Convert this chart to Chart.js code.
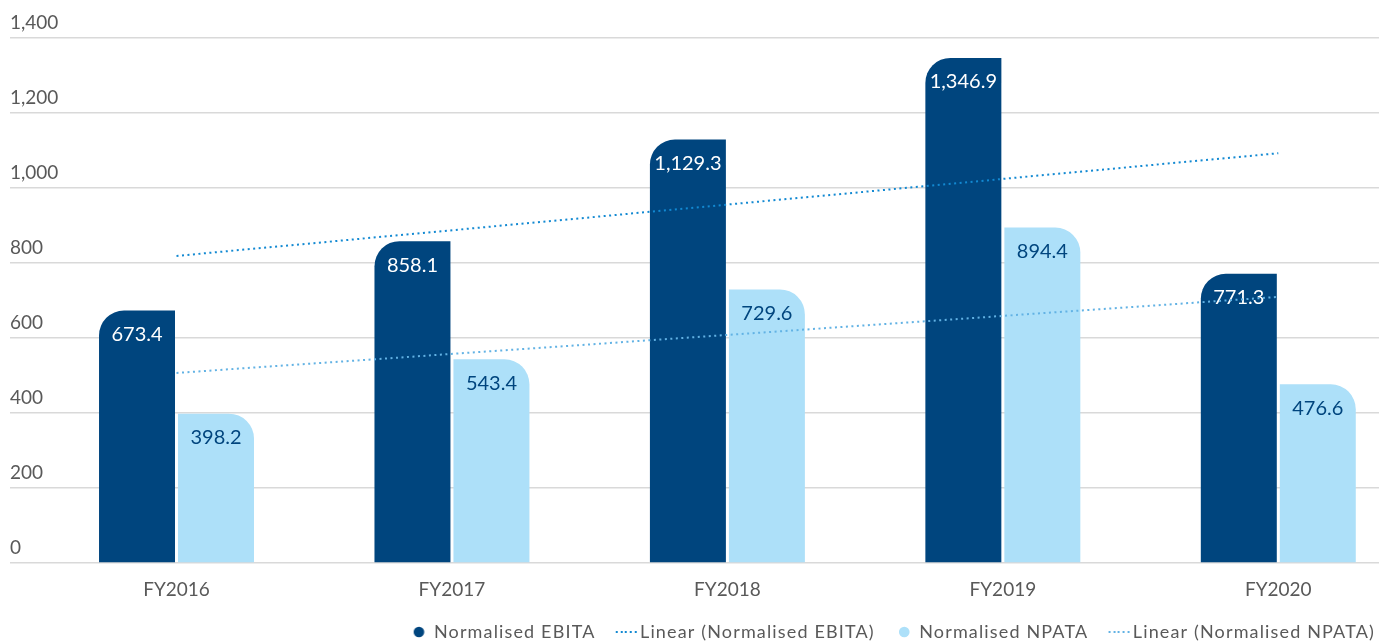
<!DOCTYPE html>
<html><head><meta charset="utf-8">
<script src="https://cdn.jsdelivr.net/npm/chart.js@4/dist/chart.umd.min.js"></script>
<style>html,body{margin:0;padding:0;background:#fff}#wrap{width:1379px;height:644px;position:relative}</style>
</head><body><div id="wrap"><canvas id="c"></canvas></div>
<script>
const categories = ['FY2016', 'FY2017', 'FY2018', 'FY2019', 'FY2020'];
const ebita = [673.4, 858.1, 1129.3, 1346.9, 771.3];
const npata = [398.2, 543.4, 729.6, 894.4, 476.6];
const trendX = [0, 4];
const ebitaTrend = [818.9, 1092.7];
const npataTrend = [506.9, 709.6];
const yTicks = [0, 200, 400, 600, 800, 1000, 1200, 1400];

const DARK = '#00457e';
const LIGHT = '#ade0f9';
const TREND1 = '#1289d2';
const TREND2 = '#62b2e4';
const FONT = 'Lato';
const LEGEND_SPACING = '1.15px';

function dottedImage(color) {
  const c = document.createElement('canvas');
  c.width = 28; c.height = 4;
  const g = c.getContext('2d');
  g.fillStyle = color;
  for (let x = 4.25; x < 26.5; x += 4.6) g.fillRect(Math.round(x), 1, 2, 2);
  return c;
}
function circleImage(color) {
  const c = document.createElement('canvas');
  c.width = 16; c.height = 12;
  const g = c.getContext('2d');
  g.fillStyle = color;
  g.beginPath();
  g.arc(8 - 0.75, 6, 5.3, 0, Math.PI * 2);
  g.fill();
  return c;
}

const barLabels = {
  id: 'barLabels',
  afterDatasetDraw(chart, args) {
    const meta = args.meta;
    if (meta.type !== 'bar') return;
    const ds = chart.data.datasets[args.index];
    const ctx = chart.ctx;
    ctx.save();
    ctx.font = '20px ' + FONT;
    ctx.textAlign = 'center';
    ctx.textBaseline = 'middle';
    ctx.fillStyle = ds.labelColor;
    meta.data.forEach((el, i) => {
      const v = ds.data[i].y;
      ctx.fillText(v.toLocaleString('en-US', {minimumFractionDigits: 1, maximumFractionDigits: 1}), el.x, el.y + 24);
    });
    ctx.restore();
  }
};

const legendSpacing = {
  id: 'legendSpacing',
  beforeLayout(chart) {
    const lg = chart.legend;
    if (!lg || lg.__patched) return;
    lg.__patched = true;
    ['fit', 'draw'].forEach(fn => {
      const orig = lg[fn];
      lg[fn] = function (...a) {
        const ctx = this.ctx;
        const prev = ctx.letterSpacing;
        ctx.letterSpacing = LEGEND_SPACING;
        const r = orig.apply(this, a);
        ctx.letterSpacing = prev || '0px';
        return r;
      };
    });
  }
};

new Chart(document.getElementById('c'), {
  data: {
    datasets: [
      {
        type: 'bar', label: 'Normalised EBITA', order: 1,
        data: categories.map((c, i) => ({x: i, y: ebita[i]})),
        backgroundColor: DARK, labelColor: '#ffffff',
        borderRadius: {topLeft: 25, topRight: 0, bottomLeft: 0, bottomRight: 0},
        borderSkipped: false,
        barPercentage: 0.962, categoryPercentage: 0.5735,
        pointStyle: circleImage(DARK)
      },
      {
        type: 'line', label: 'Linear (Normalised EBITA)', order: 0,
        data: trendX.map((x, i) => ({x: x, y: ebitaTrend[i]})),
        borderColor: TREND1, backgroundColor: TREND1, borderWidth: 2,
        borderDash: [2, 3.5], pointRadius: 0, fill: false,
        pointStyle: dottedImage(TREND1)
      },
      {
        type: 'bar', label: 'Normalised NPATA', order: 1,
        data: categories.map((c, i) => ({x: i, y: npata[i]})),
        backgroundColor: LIGHT, labelColor: '#00457e',
        borderRadius: {topLeft: 0, topRight: 25, bottomLeft: 0, bottomRight: 0},
        borderSkipped: false,
        barPercentage: 0.962, categoryPercentage: 0.5735,
        pointStyle: circleImage(LIGHT)
      },
      {
        type: 'line', label: 'Linear (Normalised NPATA)', order: 0,
        data: trendX.map((x, i) => ({x: x, y: npataTrend[i]})),
        borderColor: TREND2, backgroundColor: TREND2, borderWidth: 2,
        borderDash: [2, 3.5], pointRadius: 0, fill: false,
        pointStyle: dottedImage(TREND2)
      }
    ]
  },
  options: {
    responsive: true, maintainAspectRatio: false, animation: false,
    layout: {padding: {left: 10, right: -21, top: 38, bottom: 0}},
    scales: {
      x: {
        type: 'linear', min: -0.6045, max: 4.3656, offset: false,
        afterBuildTicks: s => { s.ticks = categories.map((c, i) => ({value: i})); },
        ticks: {
          callback: v => ['', categories[v]], maxRotation: 0, autoSkip: false,
          font: {family: FONT, size: 19, lineHeight: 1.0}, color: '#595959', padding: -1.5
        },
        grid: {display: false, drawTicks: false, tickLength: 0},
        border: {display: false}
      },
      y: {
        min: 0, max: 1400,
        afterBuildTicks: s => { s.ticks = yTicks.map(v => ({value: v})); },
        ticks: {
          mirror: true, padding: 0, labelOffset: -15,
          callback: v => v.toLocaleString('en-US'),
          font: {family: FONT, size: 19}, color: '#595959'
        },
        grid: {color: '#d9d9d9', lineWidth: 1.5, drawTicks: false},
        border: {display: false}
      }
    },
    plugins: {
      tooltip: {enabled: false},
      legend: {
        position: 'bottom', align: 'end', maxHeight: 46,
        labels: {
          usePointStyle: true, boxWidth: 10.5, boxHeight: 7.5, padding: 25,
          font: {family: FONT, size: 18}, color: '#595959',
          sort: (a, b) => a.datasetIndex - b.datasetIndex
        }
      }
    }
  },
  plugins: [barLabels, legendSpacing]
});
</script>
</body></html>
